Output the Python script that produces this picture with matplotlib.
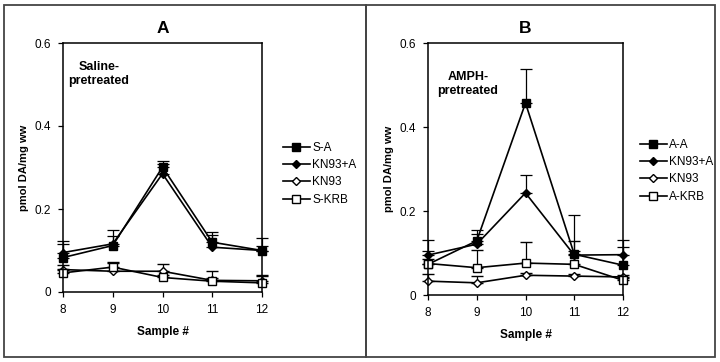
import matplotlib
matplotlib.use("Agg")
import matplotlib.pyplot as plt
from matplotlib.patches import Rectangle
from matplotlib.lines import Line2D

plt.rcParams['font.family'] = ['Liberation Sans', 'DejaVu Sans']

samples = [8, 9, 10, 11, 12]

# Panel A (saline-pretreated)
a_labels = ["S-A", "KN93+A", "KN93", "S-KRB"]
a_SA = [0.083, 0.112, 0.301, 0.120, 0.100]
a_SA_err = [0.040, 0.037, 0.014, 0.025, 0.031]
a_KNA = [0.095, 0.116, 0.285, 0.108, 0.100]
a_KNA_err = [0.020, 0.020, 0.024, 0.030, 0.010]
a_KN = [0.054, 0.050, 0.050, 0.028, 0.027]
a_KN_err = [0.010, 0.020, 0.017, 0.005, 0.011]
a_KRB = [0.046, 0.060, 0.035, 0.026, 0.022]
a_KRB_err = [0.010, 0.012, 0.005, 0.024, 0.018]

# Panel B (AMPH-pretreated)
b_labels = ["A-A", "KN93+A", "KN93", "A-KRB"]
b_AA = [0.073, 0.129, 0.457, 0.097, 0.071]
b_AA_err = [0.057, 0.025, 0.080, 0.093, 0.059]
b_KNA = [0.095, 0.121, 0.243, 0.095, 0.096]
b_KNA_err = [0.010, 0.025, 0.043, 0.010, 0.019]
b_KN = [0.033, 0.029, 0.047, 0.045, 0.043]
b_KN_err = [0.018, 0.016, 0.005, 0.005, 0.005]
b_KRB = [0.075, 0.065, 0.076, 0.073, 0.035]
b_KRB_err = [0.010, 0.042, 0.051, 0.056, 0.005]

yticks = [0, 0.2, 0.4, 0.6]
ytick_labels = ["0", "0.2", "0.4", "0.6"]

W, H = 720, 362
fig = plt.figure(figsize=(7.2, 3.62), dpi=100)

def fx(px):
    return px / W

def fy(py):
    return 1 - py / H

# panel borders
border_kw = dict(transform=fig.transFigure, fill=False, edgecolor="#444444", lw=1.3)
fig.patches.append(Rectangle((fx(4), fy(357)), fx(362), (357 - 5) / H, **border_kw))
fig.patches.append(Rectangle((fx(366), fy(357)), fx(349), (357 - 5) / H, **border_kw))

styles = [
    dict(marker="s", mfc="black", mec="black", ms=5.5),
    dict(marker="D", mfc="black", mec="black", ms=4.0),
    dict(marker="D", mfc="white", mec="black", ms=4.0, mew=1.0),
    dict(marker="s", mfc="white", mec="black", ms=6.0, mew=1.0),
]

def panel(rect, series, errs, labels, title, note, note_xy, legend_xy):
    ax = fig.add_axes(rect)
    for vals, err, st in zip(series, errs, styles):
        ax.errorbar(samples, vals, yerr=[[0] * len(err), err], color="black", lw=1.2,
                    elinewidth=0.9, capsize=4.5, capthick=0.9, clip_on=False, **st)
    ax.set_xlim(8, 12)
    ax.set_ylim(0, 0.6)
    ax.set_xticks(samples)
    ax.set_xticklabels([str(s) for s in samples], fontsize=8.5)
    ax.set_yticks(yticks)
    ax.set_yticklabels(ytick_labels, fontsize=8.5)
    ax.tick_params(direction="out", length=3.5, width=0.9, pad=5)
    for s in ax.spines.values():
        s.set_linewidth(1.1)
    ax.set_xlabel("Sample #", fontsize=8.5, fontweight="bold", labelpad=7)
    ax.set_ylabel("pmol DA/mg ww", fontsize=8, fontweight="bold", labelpad=4)
    ax.set_title(title, fontsize=12.5, fontweight="bold", pad=7)
    ax.text(note_xy[0], note_xy[1], note, transform=fig.transFigure, fontsize=9,
            fontweight="bold", ha="center", va="center", linespacing=1.3)
    handles = [Line2D([0], [0], color="black", lw=1.2, **st) for st in styles]
    fig.legend(handles, labels, loc="upper left", bbox_to_anchor=legend_xy,
               frameon=False, fontsize=8.5, handlelength=2.3, handletextpad=0.2,
               labelspacing=0.45, borderaxespad=0)
    return ax

panel([fx(63), fy(292), (262 - 63) / W, (292 - 43) / H],
      [a_SA, a_KNA, a_KN, a_KRB], [a_SA_err, a_KNA_err, a_KN_err, a_KRB_err],
      a_labels, "A", "Saline-\npretreated", (fx(99), fy(74)), (fx(278), fy(137)))

panel([fx(428), fy(295), (623 - 428) / W, (295 - 43) / H],
      [b_AA, b_KNA, b_KN, b_KRB], [b_AA_err, b_KNA_err, b_KN_err, b_KRB_err],
      b_labels, "B", "AMPH-\npretreated", (fx(468), fy(84)), (fx(635), fy(134)))

fig.savefig("out.png", dpi=100)
